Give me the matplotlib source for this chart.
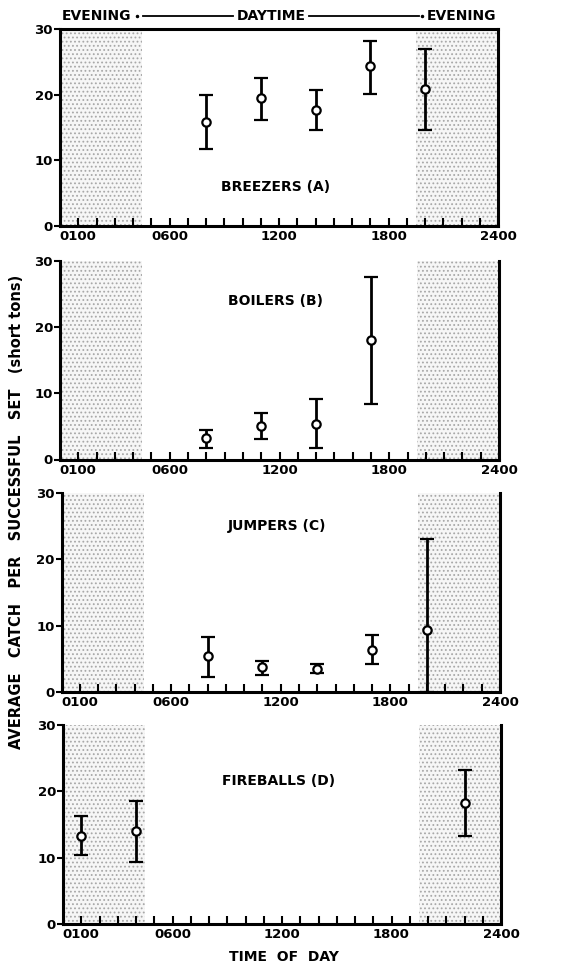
import matplotlib
matplotlib.use("Agg")
import matplotlib.pyplot as plt

plt.rcParams['font.family'] = ['DejaVu Sans']
plt.rcParams['hatch.linewidth'] = 0.8
plt.rcParams['hatch.color'] = '#a8a8a8'

# ---- data ----
hour_ticks = [1, 6, 12, 18, 24]
hour_labels = ["0100", "0600", "1200", "1800", "2400"]
y_ticks = [0, 10, 20, 30]
evening_spans = [(0, 4.5), (19.5, 24)]

panel_titles = ["BREEZERS (A)", "BOILERS (B)", "JUMPERS (C)", "FIREBALLS (D)"]
title_y = [6, 24, 25, 21.5]

breezers_x = [8, 11, 14, 17, 20]
breezers_mean = [15.9, 19.5, 17.7, 24.3, 20.8]
breezers_low = [11.8, 16.1, 14.6, 20.1, 14.6]
breezers_high = [19.9, 22.6, 20.7, 28.1, 26.9]

boilers_x = [8, 11, 14, 17]
boilers_mean = [3.3, 5.1, 5.4, 18.1]
boilers_low = [1.7, 3.05, 1.7, 8.4]
boilers_high = [4.5, 7.0, 9.1, 27.6]

jumpers_x = [8, 11, 14, 17, 20]
jumpers_mean = [5.4, 3.7, 3.4, 6.3, 9.3]
jumpers_low = [2.3, 2.5, 2.8, 4.2, 0.0]
jumpers_high = [8.3, 4.6, 4.2, 8.6, 23.1]

fireballs_x = [1, 4, 22]
fireballs_mean = [13.3, 14.0, 18.3]
fireballs_low = [10.4, 9.3, 13.2]
fireballs_high = [16.3, 18.5, 23.2]

series = [
    (breezers_x, breezers_mean, breezers_low, breezers_high),
    (boilers_x, boilers_mean, boilers_low, boilers_high),
    (jumpers_x, jumpers_mean, jumpers_low, jumpers_high),
    (fireballs_x, fireballs_mean, fireballs_low, fireballs_high),
]

# ---- layout (pixels) ----
W, H = 577, 973
boxes = [  # left, right, top, bottom
    (60, 498, 29, 226),
    (60, 499, 261, 459.5),
    (61.5, 500, 493, 692),
    (63, 501, 725, 924),
]

fig = plt.figure(figsize=(W / 100, H / 100), dpi=100)
fs = 9.5

for i, ((l, r, t, b), (xs, m, lo, hi)) in enumerate(zip(boxes, series)):
    ax = fig.add_axes([l / W, 1 - b / H, (r - l) / W, (b - t) / H])
    ax.set_xlim(0, 24)
    ax.set_ylim(0, 30)
    for s0, s1 in evening_spans:
        ax.axvspan(s0, s1, facecolor='#f6f6f6', edgecolor='#a8a8a8',
                   hatch='....', linewidth=0, zorder=0)
    yerr = [[mm - a for mm, a in zip(m, lo)], [c - mm for mm, c in zip(m, hi)]]
    ax.errorbar(xs, m, yerr=yerr, fmt='o', color='black', ecolor='black',
                elinewidth=2, capsize=5, capthick=2, ms=6,
                mfc='white', mec='black', mew=1.6, zorder=5, clip_on=False)
    ax.text(11.8, title_y[i], panel_titles[i], ha='center', va='center',
            fontsize=10, fontweight='bold')
    for sp in ['left', 'bottom', 'right']:
        ax.spines[sp].set_linewidth(2.2)
    if i == 0:
        ax.spines['top'].set_linewidth(2.2)
    else:
        ax.spines['top'].set_visible(False)
    ax.set_xticks(range(1, 24), minor=True)
    ax.set_xticks(hour_ticks)
    ax.set_xticklabels(hour_labels, fontsize=fs, fontweight='bold')
    ax.tick_params(axis='x', which='both', direction='in', length=6,
                   width=1.5, pad=3, top=False)
    ax.set_yticks(y_ticks)
    ax.set_yticklabels([str(v) for v in y_ticks], fontsize=fs, fontweight='bold')
    ax.tick_params(axis='y', direction='out', length=4, width=1.5, pad=1,
                   right=False)

# header above panel A
hy = 1 - 16 / H
fig.text(62 / W, hy, "EVENING", ha='left', va='center', fontsize=10, fontweight='bold')
fig.text(271 / W, hy, "DAYTIME", ha='center', va='center', fontsize=10, fontweight='bold')
fig.text(496 / W, hy, "EVENING", ha='right', va='center', fontsize=10, fontweight='bold')
fig.add_artist(plt.Line2D([143 / W, 233 / W], [hy, hy], color='black', lw=1.3))
fig.add_artist(plt.Line2D([309 / W, 419 / W], [hy, hy], color='black', lw=1.3))
fig.add_artist(plt.Line2D([137 / W], [hy], marker='o', ms=1.5, color='black'))
fig.add_artist(plt.Line2D([422 / W], [hy], marker='o', ms=1.5, color='black'))

fig.text(17 / W, 1 - 512 / H, "AVERAGE   CATCH   PER   SUCCESSFUL   SET   (short tons)",
         rotation=90, ha='center', va='center', fontsize=10.5, fontweight='bold')
fig.text(284 / W, 1 - 957 / H, "TIME  OF  DAY", ha='center', va='center',
         fontsize=10, fontweight='bold')

fig.savefig("out.png", dpi=100)
